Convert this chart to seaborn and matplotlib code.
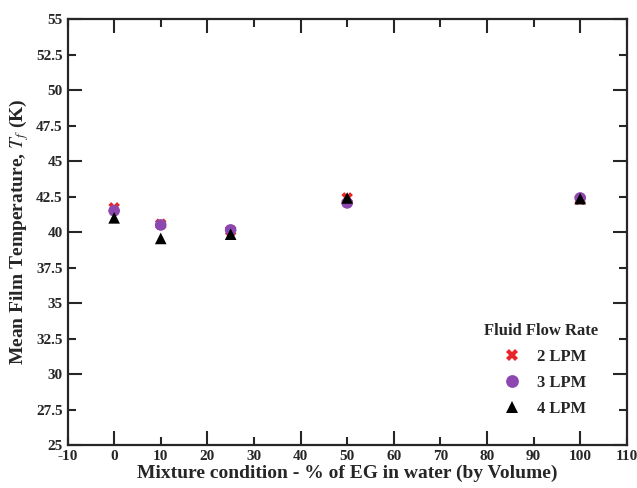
import pandas as pd
import matplotlib.pyplot as plt
import seaborn as sns
from matplotlib.ticker import MultipleLocator, FormatStrFormatter

# % of EG in water (by volume)
eg_percent = [0, 10, 25, 50, 100]

# mean film temperature for each flow rate
temp_2lpm = [41.7, 40.55, 40.1, 42.4, 42.3]
temp_3lpm = [41.5, 40.5, 40.15, 42.05, 42.4]
temp_4lpm = [41.0, 39.55, 39.85, 42.4, 42.35]

flow_labels = ["2 LPM", "3 LPM", "4 LPM"]

df = pd.DataFrame({
    "eg": eg_percent * 3,
    "temp": temp_2lpm + temp_3lpm + temp_4lpm,
    "flow": [f for f in flow_labels for _ in eg_percent],
})

sns.set_style("ticks")
plt.rcParams["font.family"] = ["Liberation Serif", "DejaVu Serif"]
plt.rcParams["mathtext.fontset"] = "stix"

fig = plt.figure(figsize=(6.37, 4.88), dpi=100)
ax = fig.add_axes([0.106, 0.088, 0.878, 0.873])

sns.scatterplot(
    data=df, x="eg", y="temp", hue="flow", style="flow",
    hue_order=flow_labels, style_order=flow_labels,
    palette={"2 LPM": "#e8262a", "3 LPM": "#8c48b0", "4 LPM": "black"},
    markers={"2 LPM": "X", "3 LPM": "o", "4 LPM": "^"},
    s=70, linewidth=0, ax=ax,
)

ax.set_xlim(-10, 110)
ax.set_ylim(25, 55)

ax.xaxis.set_major_locator(MultipleLocator(20))
ax.xaxis.set_minor_locator(MultipleLocator(10))
ax.xaxis.set_major_formatter(FormatStrFormatter("%g"))
ax.xaxis.set_minor_formatter(FormatStrFormatter("%g"))
ax.yaxis.set_major_locator(MultipleLocator(5))
ax.yaxis.set_minor_locator(MultipleLocator(2.5))
ax.yaxis.set_major_formatter(FormatStrFormatter("%g"))
ax.yaxis.set_minor_formatter(FormatStrFormatter("%g"))

ax.tick_params(which="both", direction="in", top=True, right=True,
               width=1.5, labelsize=11)
ax.tick_params(which="major", length=10)
ax.tick_params(which="minor", length=6)
for lab in ax.get_xticklabels(which="both") + ax.get_yticklabels(which="both"):
    lab.set_fontweight("bold")

for sp in ax.spines.values():
    sp.set_linewidth(1.6)

ax.set_xlabel("Mixture condition - % of EG in water (by Volume)",
              fontsize=14, fontweight="bold", labelpad=1)
ax.set_ylabel(r"Mean Film Temperature, $\mathit{T_f}$ (K)",
              fontsize=14, fontweight="bold", labelpad=4)

leg = ax.legend(title="Fluid Flow Rate", loc="lower right",
                bbox_to_anchor=(0.975, 0.03), frameon=False,
                prop={"weight": "bold", "size": 12},
                title_fontproperties={"weight": "bold", "size": 12},
                labelspacing=0.6, handletextpad=0.5, markerscale=1.1)

fig.savefig("out.png", dpi=100)
